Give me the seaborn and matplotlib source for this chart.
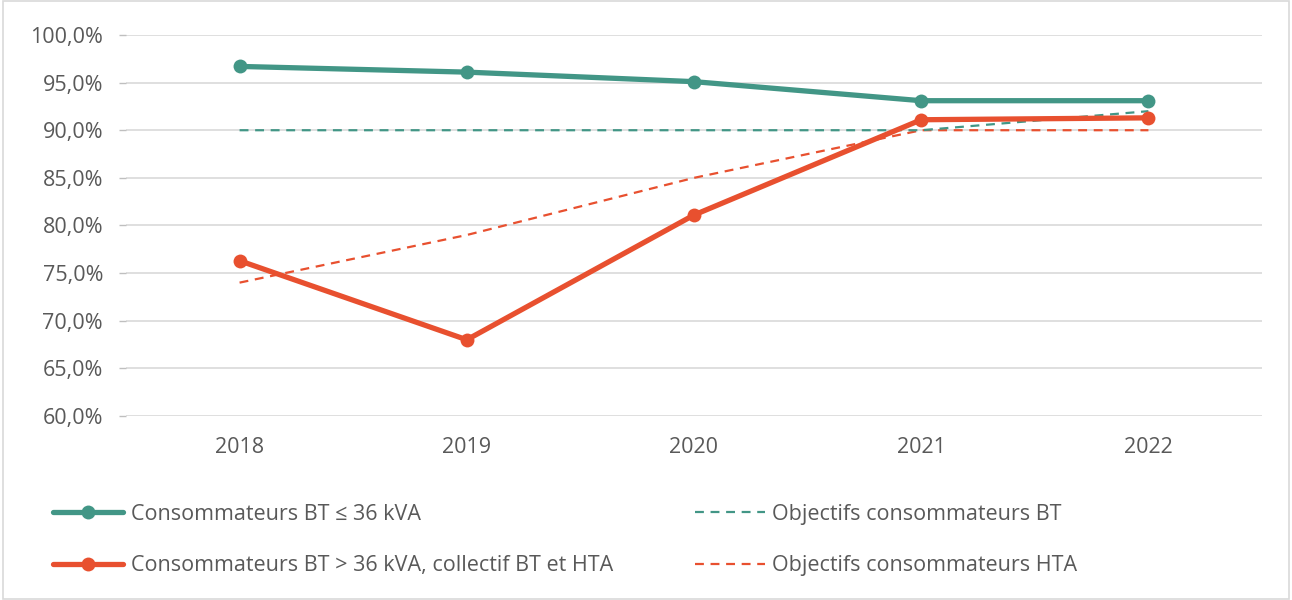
import matplotlib
matplotlib.use("Agg")
import matplotlib.pyplot as plt
import seaborn as sns
import pandas as pd
from matplotlib.lines import Line2D
from matplotlib.patches import Rectangle
from matplotlib.ticker import FuncFormatter

years = [2018, 2019, 2020, 2021, 2022]
bt_small = [96.7, 96.1, 95.1, 93.1, 93.1]
bt_large_hta = [76.3, 68.0, 81.1, 91.1, 91.3]
obj_bt = [90.0, 90.0, 90.0, 90.0, 92.0]
obj_hta = [74.0, 79.0, 85.0, 90.0, 90.0]

labels = {
    "bt": "Consommateurs BT \u2264 36 kVA",
    "hta": "Consommateurs BT > 36 kVA, collectif BT et HTA",
    "obj_bt": "Objectifs consommateurs BT",
    "obj_hta": "Objectifs consommateurs HTA",
}

teal = "#429686"
red = "#E8502F"
textc = "#595959"
FS = 15.5

sns.set_theme(style="white")
plt.rcParams["font.family"] = ["Open Sans", "DejaVu Sans"]

fig = plt.figure(figsize=(12.92, 6), dpi=100)
ax = fig.add_axes([0.0975, 0.3067, 0.8793, 0.635])

df = pd.DataFrame({"year": years, "bt": bt_small, "hta": bt_large_hta,
                   "obj_bt": obj_bt, "obj_hta": obj_hta})

sns.lineplot(data=df, x="year", y="obj_hta", ax=ax, color=red, lw=1.6,
             linestyle=(0, (4, 3)), zorder=2)
sns.lineplot(data=df, x="year", y="obj_bt", ax=ax, color=teal, lw=1.6,
             linestyle=(0, (4, 3)), zorder=2)
sns.lineplot(data=df, x="year", y="bt", ax=ax, color=teal, lw=3.8,
             marker="o", markersize=10, markeredgewidth=0, zorder=3)
sns.lineplot(data=df, x="year", y="hta", ax=ax, color=red, lw=3.8,
             marker="o", markersize=10, markeredgewidth=0, zorder=3)

ax.set_xlim(2017.5, 2022.5)
ax.set_ylim(60, 100)
ax.set_yticks([60, 65, 70, 75, 80, 85, 90, 95, 100])
ax.yaxis.set_major_formatter(FuncFormatter(lambda v, p: f"{v:.1f}%".replace(".", ",")))
ax.set_xticks(years)
ax.set_xticklabels([str(y) for y in years])
ax.set_xlabel("")
ax.set_ylabel("")
ax.grid(axis="y", color="#D9D9D9", lw=1.2)
ax.set_axisbelow(True)
for s in ax.spines.values():
    s.set_visible(False)
ax.tick_params(axis="y", length=5, color="#BFBFBF", width=1, pad=11.5, labelsize=FS, labelcolor=textc, left=True)
ax.tick_params(axis="x", length=0, pad=15, labelsize=FS, labelcolor=textc)

handles = [
    Line2D([], [], color=teal, lw=3.8, marker="o", markersize=10, markeredgewidth=0),
    Line2D([], [], color=red, lw=3.8, marker="o", markersize=10, markeredgewidth=0),
    Line2D([], [], color=teal, lw=1.6, linestyle=(0, (4, 3))),
    Line2D([], [], color=red, lw=1.6, linestyle=(0, (4, 3))),
]
leg_labels = [labels["bt"], labels["hta"], labels["obj_bt"], labels["obj_hta"]]
fig.legend(handles, leg_labels, ncol=2, loc="upper left", bbox_to_anchor=(0.0264, 0.193),
           frameon=False, fontsize=FS, labelcolor=textc, handlelength=3.25,
           handletextpad=0.33, columnspacing=3.8, labelspacing=1.43)

fig.patches.append(Rectangle((0.002, 0.002), 0.996, 0.996, transform=fig.transFigure,
                             fill=False, edgecolor="#D9D9D9", lw=1.2))

fig.savefig("out.png", dpi=100)
